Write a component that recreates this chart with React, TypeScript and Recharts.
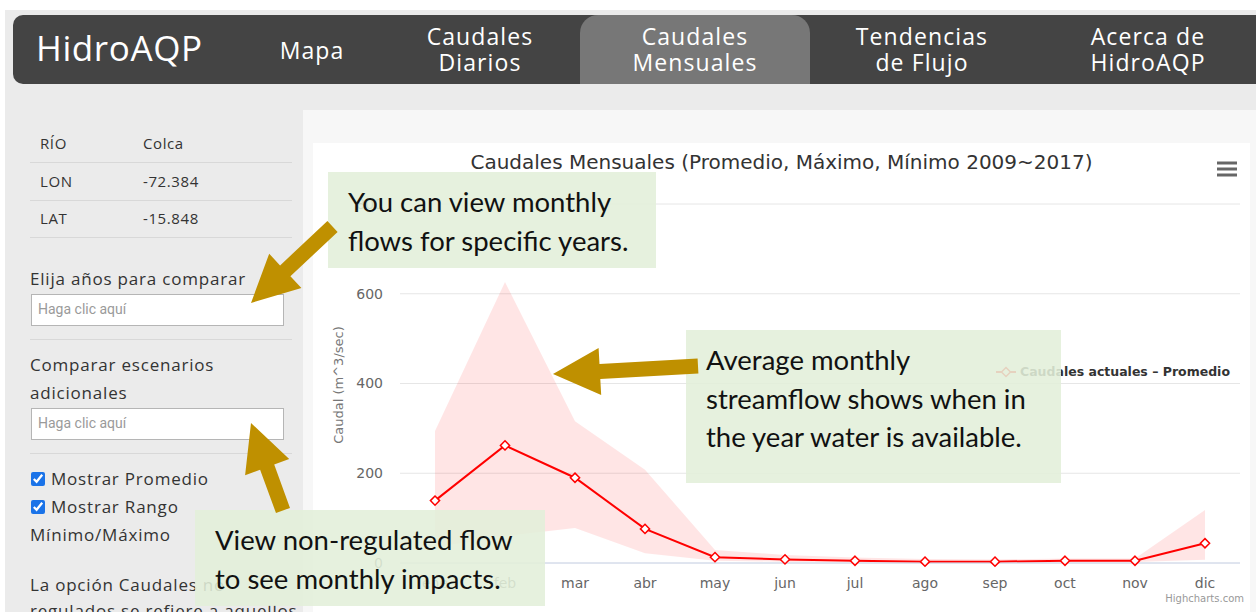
import React from "react";
import { ComposedChart, Area, Line, XAxis, YAxis, CartesianGrid } from "recharts";

// monthly flows, Colca river, 2009~2017 (m^3/sec)
const MESES = ["ene", "feb", "mar", "abr", "may", "jun", "jul", "ago", "sep", "oct", "nov", "dic"];
const PROMEDIO = [139, 262, 190, 76, 13, 8, 5, 3, 3, 5, 5, 44];
const MAXIMO = [294, 626, 316, 208, 29, 18, 12, 9, 8, 10, 10, 118];
const MINIMO = [35, 60, 78, 22, 5, 3, 2, 1, 1, 2, 2, 7];
const Y_TICKS = [0, 200, 400, 600, 800];

const INFO_ROWS = [
  ["RÍO", "Colca"],
  ["LON", "-72.384"],
  ["LAT", "-15.848"],
];

const NAV_TABS = [
  { lines: ["Mapa"], cx: 312 },
  { lines: ["Caudales", "Diarios"], cx: 480 },
  { lines: ["Caudales", "Mensuales"], cx: 695 },
  { lines: ["Tendencias", "de Flujo"], cx: 922 },
  { lines: ["Acerca de", "HidroAQP"], cx: 1148 },
];

const NOTES = [
  { left: 328, top: 172, width: 328, height: 96, lines: ["You can view monthly", "flows for specific years."] },
  { left: 686, top: 330, width: 375, height: 153, lines: ["Average monthly", "streamflow shows when in", "the year water is available."] },
  { left: 195, top: 510, width: 350, height: 96, lines: ["View non-regulated flow", "to see monthly impacts."] },
];

const ARROWS = [
  { from: [332.5, 226.5], to: [251, 303] },
  { from: [698, 366], to: [553, 374] },
  { from: [283, 510.5], to: [251, 423] },
];

const data = MESES.map((mes, i) => ({
  mes,
  promedio: PROMEDIO[i],
  rango: [MINIMO[i], MAXIMO[i]],
}));

const RED = "#ff0000";
const HC_FONT = '"DejaVu Sans", Verdana, sans-serif';
const UI_FONT = '"Open Sans", sans-serif';

function Diamond(props: any) {
  const { cx, cy, index } = props;
  if (cx == null || cy == null) return null;
  const r = 4.6;
  return (
    <path
      key={`d-${index}`}
      d={`M${cx},${cy - r}L${cx + r},${cy}L${cx},${cy + r}L${cx - r},${cy}Z`}
      fill="#fff"
      stroke={RED}
      strokeWidth={1.5}
    />
  );
}

function ChartLegend() {
  return (
    <div
      style={{
        position: "absolute",
        right: 20,
        top: 221,
        display: "flex",
        alignItems: "center",
        fontFamily: HC_FONT,
        fontSize: 12.5,
        fontWeight: "bold",
        color: "#333",
        whiteSpace: "nowrap",
      }}
    >
      <svg width={22} height={12} style={{ marginRight: 3 }}>
        <line x1={1} y1={6} x2={21} y2={6} stroke={RED} strokeWidth={2} />
        <path d="M11,1.5L15.5,6L11,10.5L6.5,6Z" fill="#fff" stroke={RED} strokeWidth={1.5} />
      </svg>
      Caudales actuales – Promedio
    </div>
  );
}

function arrowPoints(from: number[], to: number[]) {
  const shaftW = 15, headW = 47, headL = 47;
  const dx = to[0] - from[0], dy = to[1] - from[1];
  const len = Math.hypot(dx, dy);
  const ux = dx / len, uy = dy / len;
  const nx = -uy, ny = ux;
  const bx = to[0] - ux * headL, by = to[1] - uy * headL;
  const pts = [
    [from[0] + nx * shaftW / 2, from[1] + ny * shaftW / 2],
    [bx + nx * shaftW / 2, by + ny * shaftW / 2],
    [bx + nx * headW / 2, by + ny * headW / 2],
    to,
    [bx - nx * headW / 2, by - ny * headW / 2],
    [bx - nx * shaftW / 2, by - ny * shaftW / 2],
    [from[0] - nx * shaftW / 2, from[1] - ny * shaftW / 2],
  ];
  return pts.map((p) => `${p[0].toFixed(1)},${p[1].toFixed(1)}`).join(" ");
}

function NavBar() {
  return (
    <div style={{ position: "absolute", left: 13, top: 15, width: 1260, height: 69, background: "#444", borderRadius: 10, overflow: "hidden" }}>
      <div style={{ position: "absolute", left: 567, top: 0, width: 230, height: 69, background: "#777", borderRadius: "18px 18px 0 0" }} />
      <div style={{ position: "absolute", left: 23, top: 10, fontFamily: UI_FONT, fontSize: 35, letterSpacing: 0.6, color: "#fff", lineHeight: "46px" }}>
        HidroAQP
      </div>
      {NAV_TABS.map((t) => (
        <div
          key={t.lines.join(" ")}
          style={{
            position: "absolute",
            left: t.cx - 13 - 110,
            width: 220,
            top: t.lines.length === 1 ? 22 : 8,
            textAlign: "center",
            fontFamily: UI_FONT,
            fontSize: 23,
            letterSpacing: 1.1,
            lineHeight: "26px",
            color: "#fff",
          }}
        >
          {t.lines.map((l) => (
            <div key={l}>{l}</div>
          ))}
        </div>
      ))}
    </div>
  );
}

function Sidebar() {
  const txt = { position: "absolute" as const, fontFamily: UI_FONT, color: "#333", whiteSpace: "nowrap" as const, letterSpacing: 0.8 };
  const rule = (top: number) => <div style={{ position: "absolute", left: 30, top, width: 262, height: 1, background: "#d8d8d8" }} />;
  const input = (top: number) => (
    <div style={{ position: "absolute", left: 31, top, width: 251, height: 30, background: "#fff", border: "1px solid #b5b5b5" }}>
      <span style={{ position: "absolute", left: 6, top: 6, fontFamily: "Roboto, sans-serif", fontSize: 14, color: "#9a9a9a" }}>Haga clic aquí</span>
    </div>
  );
  const check = (top: number, label: string) => (
    <div style={{ ...txt, left: 30, top, fontSize: 17, lineHeight: "24px", display: "flex", alignItems: "center" }}>
      <input type="checkbox" checked readOnly style={{ margin: "0 6px 0 1px", width: 14, height: 14, accentColor: "#1a73e8" }} />
      {label}
    </div>
  );
  return (
    <>
      {INFO_ROWS.map(([k, v], i) => (
        <React.Fragment key={k}>
          <div style={{ ...txt, left: 40, top: 133 + i * 37.5, fontSize: 15, lineHeight: "20px", letterSpacing: 0.6 }}>{k}</div>
          <div style={{ ...txt, left: 143, top: 133 + i * 37.5, fontSize: 15, lineHeight: "20px", letterSpacing: 0.6 }}>{v}</div>
          {rule(162 + i * 37.5)}
        </React.Fragment>
      ))}
      <div style={{ ...txt, left: 30, top: 267, fontSize: 17, lineHeight: "24px" }}>Elija años para comparar</div>
      {input(294)}
      {rule(339)}
      <div style={{ ...txt, left: 30, top: 351, fontSize: 17, lineHeight: "28px" }}>
        Comparar escenarios
        <br />
        adicionales
      </div>
      {input(408)}
      {rule(453)}
      {check(467, "Mostrar Promedio")}
      {check(495, "Mostrar Rango")}
      <div style={{ ...txt, left: 30, top: 523, fontSize: 17, lineHeight: "24px" }}>Mínimo/Máximo</div>
      <div style={{ ...txt, left: 30, top: 572, fontSize: 17, lineHeight: "26px" }}>
        La opción Caudales no
        <br />
        regulados se refiere a aquellos
      </div>
    </>
  );
}

function FlowChart() {
  return (
    <div style={{ position: "absolute", left: 313, top: 143, width: 937, height: 469, background: "#fff" }}>
      <div style={{ position: "absolute", left: 0, top: 7, width: 937, textAlign: "center", fontFamily: HC_FONT, fontSize: 20, color: "#333" }}>
        Caudales Mensuales (Promedio, Máximo, Mínimo 2009~2017)
      </div>
      <svg style={{ position: "absolute", left: 904, top: 18 }} width={20} height={18}>
        {[2, 8, 14].map((y) => (
          <line key={y} x1={0} x2={20} y1={y} y2={y} stroke="#666" strokeWidth={3} />
        ))}
      </svg>
      <div
        style={{
          position: "absolute",
          left: 25,
          top: 242,
          transform: "translate(-50%, -50%) rotate(-90deg)",
          fontFamily: HC_FONT,
          fontSize: 13,
          color: "#777",
          whiteSpace: "nowrap",
        }}
      >
        Caudal (m^3/sec)
      </div>
      <ComposedChart width={937} height={464} data={data} margin={{ top: 61, right: 10, bottom: 0, left: 0 }}>
        <CartesianGrid vertical={false} stroke="#e6e6e6" />
        <XAxis
          dataKey="mes"
          height={44}
          padding={{ left: 35, right: 35 }}
          axisLine={{ stroke: "#ccd6eb" }}
          tickLine={false}
          tickSize={0}
          tickMargin={15}
          tick={{ fontFamily: HC_FONT, fontSize: 14, fill: "#666" }}
          interval={0}
        />
        <YAxis
          width={87}
          domain={[0, 800]}
          ticks={Y_TICKS}
          axisLine={false}
          tickLine={false}
          tickSize={0}
          tickMargin={17}
          tick={{ fontFamily: HC_FONT, fontSize: 14, fill: "#666" }}
        />
        <Area
          type="linear"
          dataKey="rango"
          stroke="none"
          fill={RED}
          fillOpacity={0.1}
          legendType="none"
          activeDot={false}
          isAnimationActive={false}
        />
        <Line
          type="linear"
          dataKey="promedio"
          name="Caudales actuales – Promedio"
          stroke={RED}
          strokeWidth={2}
          dot={(p: any) => <Diamond {...p} />}
          activeDot={false}
          isAnimationActive={false}
        />
      </ComposedChart>
      <ChartLegend />
      <div style={{ position: "absolute", right: 6, top: 450, fontFamily: HC_FONT, fontSize: 10, color: "#999" }}>Highcharts.com</div>
    </div>
  );
}

export default function App() {
  return (
    <div style={{ position: "absolute", left: 0, top: 0, width: 1256, height: 612, overflow: "hidden", background: "#fff" }}>
      <div style={{ position: "absolute", left: 5, top: 10, width: 1251, height: 602, background: "#ebebeb" }} />
      <NavBar />
      <div style={{ position: "absolute", left: 303, top: 110, width: 953, height: 502, background: "#f7f7f7" }} />
      <Sidebar />
      <FlowChart />
      {NOTES.map((n) => (
        <div
          key={n.lines[0]}
          style={{
            position: "absolute",
            left: n.left,
            top: n.top,
            width: n.width,
            height: n.height,
            background: "rgba(226, 239, 217, 0.88)",
            boxSizing: "border-box",
            padding: "11px 0 0 20px",
            fontFamily: "Lato, sans-serif",
            fontSize: 27.5,
            lineHeight: "38.5px",
            color: "#111",
            whiteSpace: "nowrap",
          }}
        >
          {n.lines.map((l) => (
            <div key={l}>{l}</div>
          ))}
        </div>
      ))}
      <svg style={{ position: "absolute", left: 0, top: 0 }} width={1256} height={612}>
        {ARROWS.map((a, i) => (
          <polygon key={i} points={arrowPoints(a.from, a.to)} fill="#bf9000" />
        ))}
      </svg>
    </div>
  );
}
